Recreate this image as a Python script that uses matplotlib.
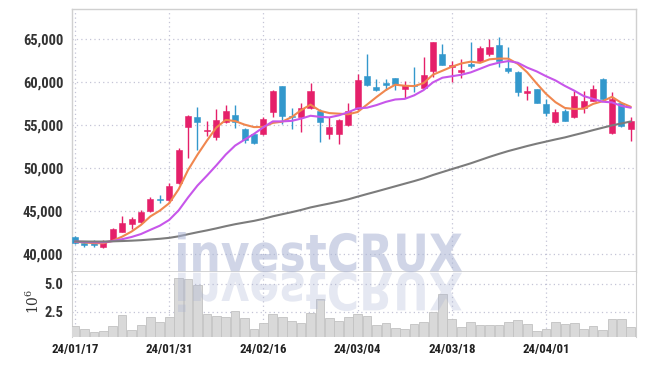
import numpy as np
import pandas as pd
import matplotlib
matplotlib.use("Agg")
import matplotlib.pyplot as plt
from matplotlib import font_manager as fm
from matplotlib.textpath import TextPath
from matplotlib.patches import PathPatch
from matplotlib.font_manager import FontProperties
from matplotlib.transforms import Affine2D

# ---------------- data ----------------
opens = [42050, 41280, 41460, 40810, 41550, 42640, 43480, 43720, 45070, 46350,
         46320, 48310, 54760, 55960, 54300, 53600, 55380, 56160, 54570, 53990,
         54020, 56580, 59570, 56050, 56000, 56975, 56660, 53990, 53950, 55000,
         56890, 60730, 59420, 59920, 60460, 59185, 59620, 59380, 61350, 63290,
         61820, 61230, 62130, 62440, 63290, 64340, 61660, 61200, 58720, 59220,
         57475, 55420, 56660, 56000, 57045, 57860, 60380, 54070, 57560, 54530]
highs = [42100, 41460, 41660, 41660, 43090, 44440, 44300, 45120, 46660, 46900,
         48310, 52380, 56230, 57170, 55520, 56860, 57320, 57320, 54720, 54100,
         55930, 59140, 59600, 57010, 57630, 59950, 56860, 56000, 55730, 57630,
         60960, 63290, 60420, 60350, 60500, 60150, 61740, 62980, 64700, 64420,
         62510, 62750, 64720, 64260, 65000, 65300, 64140, 61300, 59570, 59270,
         58020, 56930, 56850, 59020, 59020, 59685, 60450, 58870, 57700, 56000]
lows = [41200, 40880, 40810, 40780, 41500, 42600, 42910, 43650, 44890, 45960,
        46000, 48200, 51160, 52150, 53700, 53290, 55230, 54720, 52980, 52820,
        53870, 55930, 55115, 54530, 54180, 56900, 53060, 53370, 52820, 54900,
        56800, 59600, 58950, 59070, 59070, 58210, 58910, 59320, 60580, 61990,
        60030, 60460, 61700, 62400, 63100, 61820, 61120, 58440, 57940, 57600,
        56080, 55230, 55460, 55900, 56460, 57800, 57950, 54000, 54800, 53210]
closes = [41280, 41120, 41080, 41460, 42940, 43650, 44090, 44920, 46430, 46280,
          48000, 52180, 56110, 55340, 54420, 55610, 56660, 55420, 53290, 52980,
          55730, 58990, 56115, 55950, 57010, 58950, 55420, 54770, 55615, 56660,
          60270, 59720, 59140, 59720, 59770, 59650, 59520, 60850, 64650, 62050,
          61980, 61430, 61900, 63950, 64100, 62440, 61350, 58910, 59020, 57630,
          56390, 56510, 55540, 58400, 57820, 59180, 58050, 58100, 54920, 55500]
volumes = [1.24, 0.98, 0.71, 0.80, 1.21, 2.21, 0.86, 1.33, 2.09, 1.59,
           2.03, 5.47, 5.38, 4.85, 2.30, 2.12, 2.03, 2.56, 1.92, 0.98,
           1.48, 2.27, 2.01, 1.68, 1.50, 2.36, 3.68, 1.93, 1.65, 2.01,
           2.30, 2.12, 1.30, 1.48, 1.04, 0.95, 1.39, 1.57, 2.45, 4.12,
           1.83, 1.13, 1.57, 1.30, 1.30, 1.30, 1.57, 1.74, 1.39, 0.80,
           0.95, 1.57, 1.42, 1.48, 0.95, 1.21, 0.86, 1.83, 1.83, 1.13]  # x 1e6
tick_pos = [0, 10, 20, 30, 40, 50]
tick_labels = ["24/01/17", "24/01/31", "24/02/16", "24/03/04", "24/03/18", "24/04/01"]
price_ticks = [40000, 45000, 50000, 55000, 60000, 65000]
ma_windows = [5, 10, 60]
ma_start_level = 41500   # level where all MA lines start at the left edge

# ---------------- style ----------------
UP = "#e5206a"
DOWN = "#3398cc"
MA_COLORS = ["#f0874f", "#c756ea", "#7c7c7c"]
GRID = "#c4c4d6"
SPINE = "#d0d0d0"


def pick_font():
    prefs = [("Liberation Sans Narrow", None), ("Roboto Condensed", None),
             ("DejaVu Sans", "condensed"), ("Open Sans", "condensed")]
    for fam, stretch in prefs:
        cands = [f for f in fm.fontManager.ttflist
                 if f.name == fam and f.style == "normal"
                 and (stretch is None or f.stretch == stretch)]
        if cands:
            bold = [f for f in cands if isinstance(f.weight, int) and f.weight >= 600
                    or f.weight in ("bold", "semibold", "demibold")]
            f = (bold or cands)[0]
            return f.fname
    return None


fname = pick_font()


def tick_fp(size):
    if fname:
        return FontProperties(fname=fname, size=size)
    return FontProperties(family="DejaVu Sans", weight="bold", size=size)


W, H = 645, 366
fig = plt.figure(figsize=(W / 100, H / 100), dpi=100)

left, right = 71.7, 635.7
ax = fig.add_axes([left / W, 1 - 272.3 / H, (right - left) / W, (272.3 - 9.3) / H])
axv = fig.add_axes([left / W, 1 - 337.3 / H, (right - left) / W, (337.3 - 272.3) / H], sharex=ax)

o = np.array(opens, float); h = np.array(highs, float)
l = np.array(lows, float); c = np.array(closes, float)
x = np.arange(len(c))
up = c >= o
cols = np.where(up, UP, DOWN)

# wicks
ax.vlines(x, l, h, colors=cols, linewidth=1.0, zorder=3)
# bodies
bottoms = np.minimum(o, c)
heights = np.maximum(np.abs(c - o), 160)
ax.bar(x, heights, bottom=bottoms, width=0.64, color=cols, edgecolor=cols, linewidth=0.4, zorder=4)

# moving averages (history before the window sits at the starting level)
pad = max(ma_windows) - 1
hist = pd.Series([ma_start_level] * pad + closes, dtype=float)
for w, col in zip(ma_windows, MA_COLORS):
    ma = hist.rolling(w).mean().to_numpy()[pad:]
    ax.plot(x, ma, color=col, linewidth=1.5, zorder=5, solid_capstyle="round")

ax.set_xlim(-0.35, 59.52)
ax.set_ylim(37907, 68490)
ax.set_yticks(price_ticks)
ax.set_yticklabels([f"{v:,}" for v in price_ticks])
ax.grid(True, color=GRID, linestyle=(0, (1, 2.5)), linewidth=0.9)
ax.set_axisbelow(True)
ax.tick_params(axis="y", length=0, pad=6, colors="#333333")
ax.tick_params(axis="x", length=0, labelbottom=False)
for s in ["left", "top", "right"]:
    ax.spines[s].set_color(SPINE)
    ax.spines[s].set_linewidth(1.0)
ax.spines["bottom"].set_color("#cccccc")
ax.spines["bottom"].set_linewidth(1.2)

# volume
v = np.array(volumes) * 1e6
axv.bar(x, v, width=0.92, color="#d9d9d9", edgecolor="#c2c2c2", linewidth=0.6, zorder=3)
axv.set_ylim(0.25e6, 6.0e6)
axv.set_yticks([2.5e6, 5.0e6])
axv.set_yticklabels(["2.5", "5.0"])
axv.set_xticks(tick_pos)
axv.set_xticklabels(tick_labels)
axv.grid(True, color=GRID, linestyle=(0, (1, 2.5)), linewidth=0.9)
axv.set_axisbelow(True)
axv.tick_params(axis="y", length=0, pad=6, colors="#333333")
axv.tick_params(axis="x", length=0, pad=4, colors="#222222")
for s in ["left", "right"]:
    axv.spines[s].set_color(SPINE)
axv.spines["top"].set_visible(False)
axv.spines["bottom"].set_visible(False)

# fit tick label font sizes to the reference widths
ylabs = ax.get_yticklabels() + axv.get_yticklabels()
xlabs = axv.get_xticklabels()
for lab in ylabs + xlabs:
    lab.set_fontproperties(tick_fp(10))
fig.canvas.draw()
r = fig.canvas.get_renderer()
wy = ax.get_yticklabels()[-1].get_window_extent(r).width
wx = xlabs[0].get_window_extent(r).width
sy_ = min(10 * 40.0 / wy, 12)
sx_ = min(10 * 48.0 / wx, 12)
for lab in ylabs:
    lab.set_fontproperties(tick_fp(sy_))
for lab in xlabs:
    lab.set_fontproperties(tick_fp(sx_))

plt.rcParams["mathtext.fontset"] = "dejavuserif"
fig.text(33 / W, 1 - 301 / H, r"$10^{6}$", rotation=90, ha="center", va="center",
         fontsize=10, color="#333333")

# watermark
tp = TextPath((0, 0), "investCRUX", size=1, prop=FontProperties(family="DejaVu Sans", weight="bold"))
ext = tp.get_extents()
x0, x1, top, base = 178, 462, 232, 272
sxw = (x1 - x0) / ext.width
syw = (base - top) / ext.height
tr = (Affine2D().translate(-ext.x0, -ext.y0).scale(sxw / W, syw / H)
      .translate(x0 / W, (H - base) / H) + fig.transFigure)
fig.add_artist(PathPatch(tp, transform=tr, facecolor="#aab4d4", edgecolor="none", alpha=0.55, zorder=10))
tr2 = (Affine2D().translate(-ext.x0, -ext.y0).scale(sxw / W, -syw / H)
       .translate(x0 / W, (H - base) / H) + fig.transFigure)
fig.add_artist(PathPatch(tp, transform=tr2, facecolor="#aab4d4", edgecolor="none", alpha=0.3, zorder=10))

fig.savefig("out.png", dpi=100)
